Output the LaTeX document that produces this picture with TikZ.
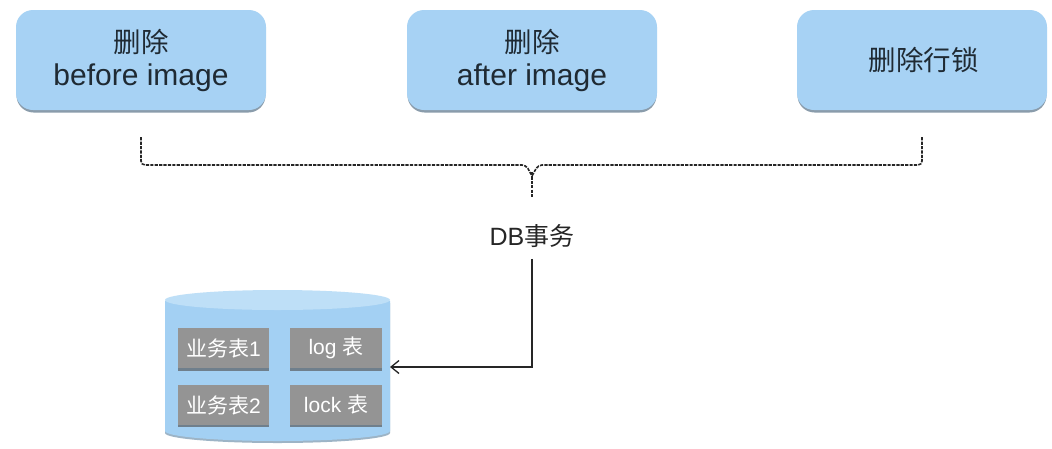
\documentclass[tikz,border=0pt]{standalone}
\usepackage{fontspec}
\setmainfont{Liberation Sans}
\newfontfamily\cjk{Noto Sans CJK SC}
\usetikzlibrary{arrows.meta,calc}
\definecolor{boxblue}{HTML}{A7D2F4}
\definecolor{boxshadow}{HTML}{8A9CAB}
\definecolor{cylblue}{HTML}{A3D0F3}
\definecolor{cyltop}{HTML}{BEDFF7}
\definecolor{cylshadow}{HTML}{9DB4C6}
\definecolor{tablegrey}{HTML}{949494}
\definecolor{tableedge}{HTML}{6F7F8C}
\definecolor{inktext}{HTML}{1F2A33}
\tikzset{
  x=1pt,y=-1pt,
  opbox/.style={minimum width=250pt,minimum height=100pt,rounded corners=17pt,fill=boxblue,
    align=center,text=inktext,font=\fontsize{30}{33}\selectfont,inner sep=0pt},
  opshadow/.style={rounded corners=17pt,fill=boxshadow},
  tablebox/.style={minimum width=91pt,minimum height=40pt,fill=tablegrey,text=white,
    font=\fontsize{21}{24}\selectfont,inner sep=0pt},
  tableshadow/.style={fill=tableedge},
  dashline/.style={draw=black!85,line width=1.6pt,dash pattern=on 3.2pt off 1.2pt,rounded corners=4pt},
  solidline/.style={draw=black!85,line width=1.3pt},
}
\newcommand{\cjkhead}[1]{{\fontsize{27.5}{33}\selectfont\cjk #1}}
\begin{document}
\begin{tikzpicture}
\useasboundingbox (0,0) rectangle (1052,448);
\fill[white] (0,0) rectangle (1052,448);
% box shadows
\fill[opshadow] (16.5,13) rectangle (265.5,112.5);
\fill[opshadow] (407.5,13) rectangle (656.5,112.5);
\fill[opshadow] (797.5,13) rectangle (1046.5,112.5);
\node[opbox] (b1) at (141,60) {\cjkhead{删除}\\before image};
\node[opbox] (b2) at (532,60) {\cjkhead{删除}\\after image};
\node[opbox] (b3) at (922,60) {\raisebox{2pt}{\hspace{3pt}\cjkhead{删除行锁}}};
% dashed brace
\coordinate (bl) at ($(b1.south)+(0,27)$);
\coordinate (br) at ($(b3.south)+(0,27)$);
\node[font=\fontsize{25}{28}\selectfont,text=black!85,inner sep=0pt] (db) at (532,236) {DB{\cjk 事务}};
\coordinate (bm) at (532,197);
\draw[dashline] (bl) -- (bl |- 0,165) -- (526,165) -- (532,176);
\draw[dashline] (br) -- (br |- 0,165) -- (538,165) -- (532,176);
\draw[dashline] (532,172) -- (bm);
% cylinder
\fill[cylshadow] (165,303) -- (165,433) arc[start angle=180,end angle=0,x radius=112.5pt,y radius=-10pt] -- (390,303) -- cycle;
\fill[cylblue] (165,301) -- (165,431) arc[start angle=180,end angle=0,x radius=112.5pt,y radius=-10pt] -- (390,301) -- cycle;
\fill[cyltop] (277.5,300) ellipse[x radius=112.5pt,y radius=10pt];
% tables
\fill[tableshadow] (178,331) rectangle (269,371);
\fill[tableshadow] (290,331) rectangle (382,371);
\fill[tableshadow] (178,387) rectangle (269,427);
\fill[tableshadow] (290,387) rectangle (382,427);
\node[tablebox] (t1) at (223.5,348) {{\cjk 业务表}1};
\node[tablebox,minimum width=92pt] (t2) at (336,348) {log {\cjk 表}};
\node[tablebox] (t3) at (223.5,405) {{\cjk 业务表}2};
\node[tablebox,minimum width=92pt] (t4) at (336,405) {lock {\cjk 表}};
\coordinate (cyl) at (390,367);
% connector
\draw[solidline,-{Straight Barb[length=8pt,width=13pt]}] (db.south) ++(0,11) |- (cyl);
\end{tikzpicture}
\end{document}
